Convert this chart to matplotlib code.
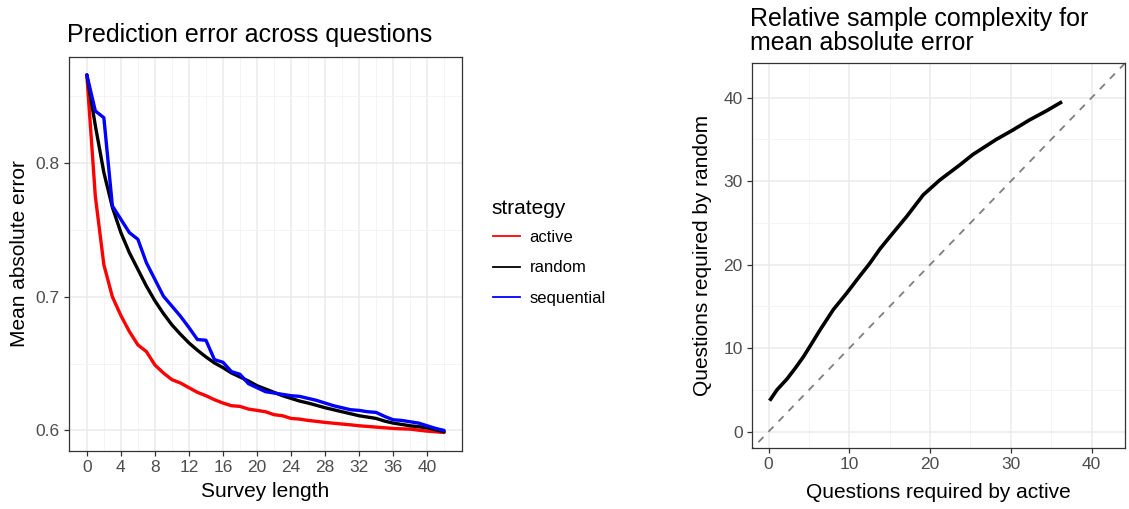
# Two-panel figure: prediction error by survey length, and relative sample complexity

import matplotlib
matplotlib.use("Agg")
import matplotlib.pyplot as plt
import numpy as np

plt.rcParams["font.family"] = ["Liberation Sans", "DejaVu Sans"]

survey_length = list(range(43))

active = [0.866, 0.775, 0.724, 0.700, 0.686, 0.674, 0.664, 0.659, 0.649, 0.643,
          0.638, 0.6355, 0.632, 0.6285, 0.626, 0.623, 0.6205, 0.6185, 0.618, 0.616,
          0.615, 0.614, 0.6118, 0.611, 0.609, 0.6085, 0.6075, 0.6068, 0.606, 0.6054,
          0.6048, 0.6042, 0.6035, 0.603, 0.6025, 0.602, 0.6015, 0.6012, 0.601, 0.6002,
          0.5995, 0.599, 0.5985]

random_ = [0.866, 0.828, 0.793, 0.767, 0.748, 0.733, 0.7205, 0.708, 0.697, 0.6875,
           0.679, 0.672, 0.6655, 0.660, 0.655, 0.6505, 0.647, 0.643, 0.640, 0.637,
           0.6335, 0.631, 0.6285, 0.626, 0.624, 0.622, 0.6205, 0.6188, 0.617, 0.6155,
           0.614, 0.6125, 0.611, 0.610, 0.609, 0.607, 0.6055, 0.6045, 0.6035, 0.6028,
           0.602, 0.6005, 0.599]

sequential = [0.866, 0.839, 0.834, 0.768, 0.758, 0.748, 0.743, 0.7255, 0.713, 0.7005,
              0.693, 0.6855, 0.677, 0.668, 0.6675, 0.653, 0.651, 0.644, 0.642, 0.635,
              0.632, 0.629, 0.628, 0.627, 0.626, 0.6255, 0.624, 0.6225, 0.6205, 0.6185,
              0.617, 0.6155, 0.615, 0.614, 0.6135, 0.6105, 0.608, 0.6075, 0.6065, 0.6055,
              0.6035, 0.6015, 0.600]

q_active = [0.12, 1.03, 2.27, 3.3, 4.32, 5.3, 6.38, 8.0, 9.68, 11.1, 12.56, 13.8,
            15.02, 17.08, 19.14, 21.2, 23.67, 25.3, 28.19, 30.25, 32.3, 34.36, 36.34]
q_random = [3.7, 5.0, 6.3, 7.6, 8.98, 10.5, 12.2, 14.6, 16.6, 18.4, 20.2, 21.9,
            23.35, 25.75, 28.35, 30.14, 31.94, 33.2, 35.0, 36.13, 37.33, 38.4, 39.52]

strategies = ["active", "random", "sequential"]
colors = ["#FF0000", "#000000", "#0000FF"]

fig = plt.figure(figsize=(11.29, 5.09), dpi=100)

grid_major = "#EBEBEB"
grid_minor = "#F2F2F2"
tick_col = "#4D4D4D"
frame_col = "#333333"


def style(ax):
    ax.set_axisbelow(True)
    ax.grid(True, which="major", color=grid_major, lw=1.1)
    ax.grid(True, which="minor", color=grid_minor, lw=0.6)
    for s in ax.spines.values():
        s.set_color(frame_col)
        s.set_linewidth(0.9)
    ax.tick_params(which="major", length=3.5, color=frame_col, labelcolor=tick_col,
                   labelsize=12.5, width=0.9, pad=3)
    ax.tick_params(which="minor", length=0)


# left panel
ax1 = fig.add_axes([0.0611, 0.1139, 0.3481, 0.7741])
for name, vals, c in zip(strategies, [active, random_, sequential], colors):
    ax1.plot(survey_length, vals, color=c, lw=2.4, label=name, solid_capstyle="round")
ax1.set_xlim(-2.1, 44.1)
ax1.set_ylim(0.5846, 0.8794)
ax1.set_xticks(range(0, 41, 4))
ax1.set_xticks(range(2, 43, 4), minor=True)
ax1.set_yticks([0.6, 0.7, 0.8])
ax1.set_yticklabels(["0.6", "0.7", "0.8"])
ax1.set_yticks([0.65, 0.75, 0.85], minor=True)
style(ax1)
ax1.set_xlabel("Survey length", fontsize=15, labelpad=5)
ax1.set_ylabel("Mean absolute error", fontsize=15, labelpad=5)
ax1.set_title("Prediction error across questions", fontsize=18, loc="left",
              x=-0.005, pad=11)

# legend: title as separate text so the gap matches ggplot
fig.text(491 / 1129, 1 - 208 / 509, "strategy", fontsize=15, va="center", ha="left")
handles = [plt.Line2D([], [], color=c, lw=1.3) for c in colors]
leg = fig.legend(handles, strategies, loc="upper left",
                 bbox_to_anchor=(478 / 1129, 1 - 215 / 509), frameon=False,
                 fontsize=12, handlelength=1.6, handletextpad=0.6, labelspacing=0.92)

# right panel
ax2 = fig.add_axes([0.6658, 0.1193, 0.3304, 0.7576])
ax2.plot([-5, 50], [-5, 50], color="#7F7F7F", lw=1.3, ls=(0, (4, 4)))
ax2.plot(q_active, q_random, color="black", lw=2.6, solid_capstyle="butt")
ax2.set_xlim(-2.1, 44.1)
ax2.set_ylim(-2.0, 44.2)
ax2.set_xticks([0, 10, 20, 30, 40])
ax2.set_yticks([0, 10, 20, 30, 40])
ax2.set_xticks([5, 15, 25, 35], minor=True)
ax2.set_yticks([5, 15, 25, 35], minor=True)
style(ax2)
ax2.set_xlabel("Questions required by active", fontsize=15, labelpad=8)
ax2.set_ylabel("Questions required by random", fontsize=15, labelpad=8)
ax2.set_title("Relative sample complexity for\nmean absolute error", fontsize=18,
              loc="left", x=-0.005, pad=9, linespacing=1.0)

fig.savefig("out.png", dpi=100)
